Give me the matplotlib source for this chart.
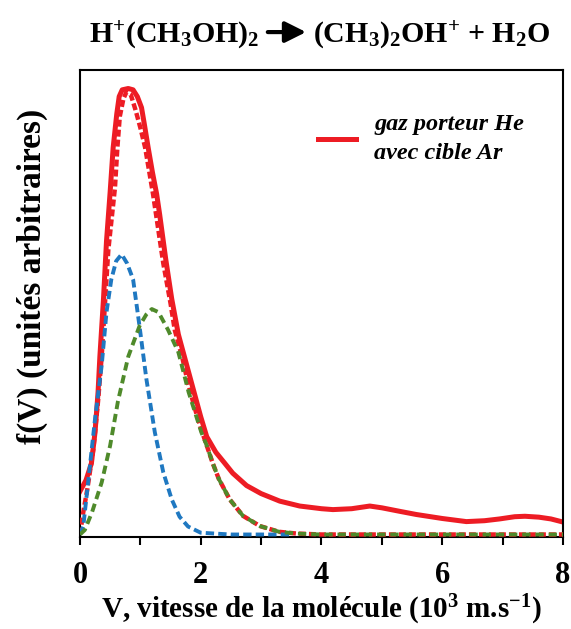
import numpy as np
import matplotlib
matplotlib.use("Agg")
import matplotlib.pyplot as plt

# valeurs (f(V) normalisé, pic = 1)
v_total = [0.0, 0.1, 0.19, 0.25, 0.30, 0.33, 0.39, 0.44, 0.50, 0.55, 0.61, 0.65, 0.70, 0.80,
           0.88, 0.95, 1.02, 1.07, 1.13, 1.20, 1.27, 1.32, 1.42, 1.52, 1.63, 1.75, 1.85, 2.0,
           2.1, 2.25, 2.4, 2.53, 2.76, 3.0, 3.31, 3.64, 4.0, 4.19, 4.5, 4.8, 5.0, 5.3, 5.57,
           6.0, 6.4, 6.7, 6.95, 7.2, 7.37, 7.6, 7.8, 8.0]
f_total = [0.097, 0.122, 0.16, 0.23, 0.32, 0.40, 0.53, 0.66, 0.77, 0.87, 0.946, 0.985, 1.0, 1.003,
           1.0, 0.985, 0.96, 0.92, 0.87, 0.815, 0.766, 0.72, 0.62, 0.53, 0.45, 0.39, 0.34, 0.265,
           0.22, 0.185, 0.16, 0.138, 0.11, 0.092, 0.075, 0.064, 0.058, 0.056, 0.058, 0.064, 0.06,
           0.052, 0.045, 0.036, 0.029, 0.031, 0.035, 0.040, 0.041, 0.039, 0.035, 0.028]

v_fit = [0.0, 0.055, 0.12, 0.22, 0.30, 0.36, 0.47, 0.58, 0.62, 0.66, 0.72, 0.77, 0.84, 0.92,
         1.0, 1.08, 1.21, 1.38, 1.5, 1.57, 1.7, 1.79, 1.9, 2.0, 2.1, 2.2, 2.3, 2.48, 2.7,
         2.98, 3.3, 3.6, 4.0, 8.0]
f_fit = [0.0, 0.05, 0.1, 0.19, 0.30, 0.40, 0.64, 0.78, 0.87, 0.94, 0.98, 0.995, 0.99, 0.955,
         0.915, 0.87, 0.766, 0.61, 0.52, 0.46, 0.395, 0.34, 0.285, 0.24, 0.2, 0.16, 0.125,
         0.079, 0.042, 0.019, 0.006, 0.002, 0.0, 0.0]

v_blue = [0.0, 0.055, 0.165, 0.25, 0.36, 0.44, 0.52, 0.6, 0.69, 0.78, 0.88, 0.99, 1.1,
          1.24, 1.38, 1.52, 1.65, 1.79, 2.0, 2.5, 3.5]
f_blue = [0.0, 0.018, 0.154, 0.26, 0.38, 0.50, 0.574, 0.615, 0.63, 0.61, 0.574, 0.465, 0.35,
          0.23, 0.14, 0.079, 0.04, 0.018, 0.004, 0.0, 0.0]

v_green = [0.0, 0.08, 0.2, 0.36, 0.5, 0.63, 0.8, 0.99, 1.1, 1.19, 1.3, 1.46, 1.63, 1.8,
           2.01, 2.1, 2.2, 2.3, 2.48, 2.7, 2.98, 3.3, 3.6, 4.0, 8.0]
f_green = [0.0, 0.01, 0.05, 0.117, 0.2, 0.30, 0.40, 0.47, 0.495, 0.507, 0.5, 0.46, 0.41, 0.32,
           0.23, 0.2, 0.16, 0.125, 0.079, 0.042, 0.019, 0.006, 0.002, 0.0, 0.0]

major_ticks = [0, 2, 4, 6, 8]
minor_ticks = [1, 3, 5, 7]

red = "#ED1C24"
blue = "#1F78C1"
green = "#4F8A2B"

plt.rcParams["font.family"] = ["Liberation Serif", "DejaVu Serif"]
plt.rcParams["font.weight"] = "bold"
plt.rcParams["mathtext.fontset"] = "custom"
plt.rcParams["mathtext.rm"] = "Liberation Serif:bold"
plt.rcParams["mathtext.it"] = "Liberation Serif:italic:bold"
plt.rcParams["mathtext.bf"] = "Liberation Serif:bold"
plt.rcParams["lines.scale_dashes"] = False

fig = plt.figure(figsize=(5.71, 6.29), dpi=100)
ax = fig.add_axes([0.140, 0.146, 0.846, 0.743])

line_tot, = ax.plot(v_total, f_total, color=red, lw=3.6, solid_joinstyle="round", zorder=2)
ax.plot(v_fit, f_fit, color=red, lw=3.2, dashes=(5, 2.2), zorder=3)
ax.plot(v_blue, f_blue, color=blue, lw=2.8, dashes=(6, 3), zorder=4)
ax.plot(v_green, f_green, color=green, lw=2.8, dashes=(6, 3.5), zorder=5)

ax.set_xlim(0, 8)
ax.set_ylim(-0.006, 1.045)
ax.set_xticks(major_ticks)
ax.set_xticks(minor_ticks, minor=True)
ax.set_yticks([])
ax.tick_params(axis="x", which="both", direction="out", length=6, width=1.5, pad=11,
               labelsize=22)
for s in ax.spines.values():
    s.set_linewidth(1.5)

leg = ax.legend([line_tot], ["gaz porteur He\navec cible Ar"], loc="upper left",
                bbox_to_anchor=(0.493, 0.905), frameon=False, borderpad=0, borderaxespad=0,
                handlelength=1.55, handletextpad=0.75,
                prop={"family": "Liberation Serif", "weight": "bold", "style": "italic",
                      "size": 17.5})
for t in leg.get_texts():
    t.set_linespacing(1.5)

# titre : réaction, flèche épaisse dessinée entre les deux membres
fig.text(0.455, 0.9316, r"H$^{+}$(CH$_3$OH)$_2$", ha="right", va="baseline", fontsize=21.5)
fig.text(0.548, 0.9316, r"(CH$_3$)$_2$OH$^{+}$ + H$_2$O", ha="left", va="baseline",
         fontsize=21.5)
ax.annotate("", xy=(0.536, 0.949), xytext=(0.469, 0.949), xycoords="figure fraction",
            textcoords="figure fraction",
            arrowprops=dict(arrowstyle="-|>,head_length=0.7,head_width=0.35", lw=3,
                            color="black", mutation_scale=18, shrinkA=0, shrinkB=0))

fig.text(0.563, 0.017, r"V, vitesse de la molécule (10$^{3}$ m.s$^{-1}$)",
         ha="center", va="baseline", fontsize=21)
fig.text(0.056, 0.56, "f(V) (unités arbitraires)", rotation=90,
         ha="center", va="center", fontsize=24)

fig.savefig("out.png", dpi=100)
